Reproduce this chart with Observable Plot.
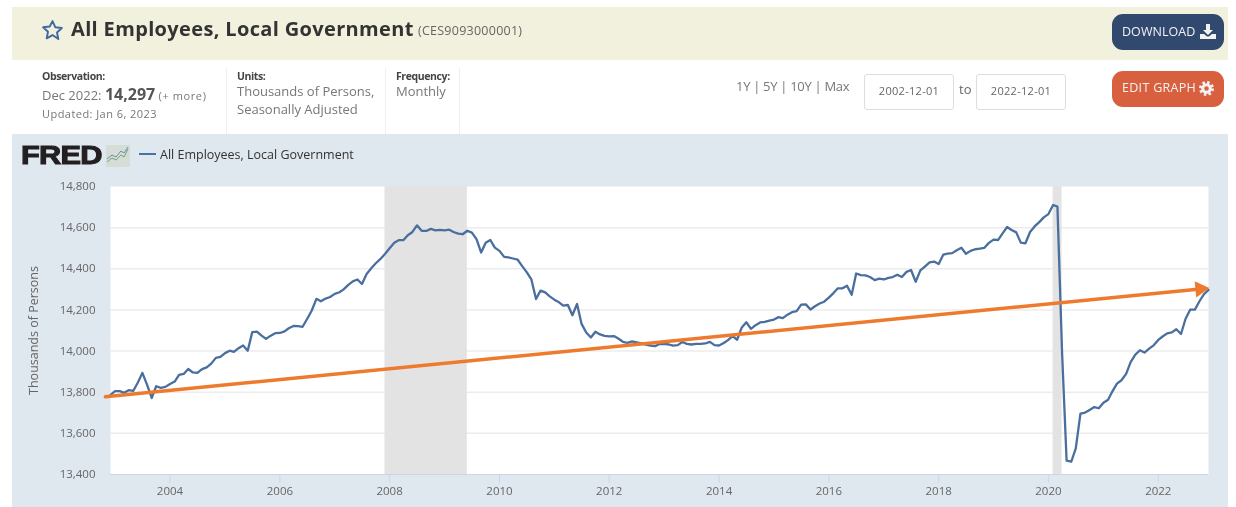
<!DOCTYPE html>
<html lang="en">
<head>
<meta charset="utf-8">
<title>All Employees, Local Government</title>
<script src="https://cdn.jsdelivr.net/npm/d3@7"></script>
<script src="https://cdn.jsdelivr.net/npm/@observablehq/plot@0.6"></script>
<style>
  html, body { margin: 0; padding: 0; background: #fff; }
  body { width: 1236px; height: 507px; position: relative; overflow: hidden; font-family: "Open Sans", sans-serif; color: #666; filter: blur(.3px); }
  .a { position: absolute; white-space: nowrap; line-height: 1; }
  #bar { position: absolute; left: 12px; top: 7px; width: 1216px; height: 53px; background: #f1f1de; }
  #panel { position: absolute; left: 12px; top: 134px; width: 1216px; height: 373px; background: #dfe7ef; }
  #chart { position: absolute; left: 12px; top: 134px; }
  #chart svg { display: block; background: transparent; }
  .sep { position: absolute; top: 68px; height: 66px; width: 1px; background: #eceff3; }
  .hd { font-size: 10.5px; font-weight: 700; color: #444; letter-spacing: -.4px; }
  .bd { font-size: 13px; color: #777; letter-spacing: 0; }
  .inp { position: absolute; top: 74px; width: 88px; height: 34px; border: 1px solid #ddd; border-radius: 3px; background: #fff; font-size: 11px; color: #666; text-align: center; line-height: 32px; letter-spacing: .3px; box-sizing: content-box; }
  .btn { position: absolute; left: 1112px; width: 112px; height: 36px; border-radius: 11px; color: #f2f2f2; font-size: 12.5px; letter-spacing: .05px; }
</style>
</head>
<body>
<div id="bar"></div>
<div id="panel"></div>

<svg class="a" style="left:41px;top:19px" width="23" height="22" viewBox="0 0 24 23">
  <path d="M12 2.2l2.9 6.4 6.9.8-5.1 4.7 1.4 6.9L12 16.8l-6.1 3.4 1.4-6.9-5.1-4.7 6.9-.8z" fill="none" stroke="#3f6a9e" stroke-width="2" stroke-linejoin="round"/>
</svg>
<div class="a" id="title" style="left:71px;top:19px;font-size:20px;font-weight:700;color:#333;letter-spacing:.35px">All Employees, Local Government</div>
<div class="a" style="left:418px;top:25px;font-size:12.5px;color:#666;letter-spacing:.25px">(CES9093000001)</div>

<div class="sep" style="left:226px"></div>
<div class="sep" style="left:385px"></div>
<div class="sep" style="left:459px"></div>

<div class="a hd" style="left:42px;top:71px">Observation:</div>
<div class="a bd" style="left:42px;top:86px;font-size:13px">Dec 2022: <b style="font-size:16px;color:#555">14,297</b> <span style="font-size:11px;letter-spacing:.6px">(+ more)</span></div>
<div class="a" style="left:42px;top:108px;font-size:11px;color:#777;letter-spacing:.45px">Updated: Jan 6, 2023</div>

<div class="a hd" style="left:237px;top:71px">Units:</div>
<div class="a bd" style="left:237px;top:85px">Thousands of Persons,</div>
<div class="a bd" style="left:237px;top:103px">Seasonally Adjusted</div>

<div class="a hd" style="left:396px;top:71px">Frequency:</div>
<div class="a bd" style="left:396px;top:85px">Monthly</div>

<div class="a" style="left:736px;top:80px;font-size:13px;color:#777;letter-spacing:-.3px">1Y | 5Y | 10Y | Max</div>
<div class="inp" style="left:864px">2002-12-01</div>
<div class="a" style="left:959px;top:83px;font-size:13px;color:#666">to</div>
<div class="inp" style="left:976px">2022-12-01</div>

<div class="btn" style="top:14px;background:#31496f">
  <span class="a" style="left:10px;top:12px">DOWNLOAD</span>
  <svg class="a" style="left:88px;top:9px" width="16" height="17" viewBox="0 0 16 17">
    <path d="M6 1h4v6h3l-5 5-5-5h3z" fill="#f2f2f2"/><path d="M0 11h4l3 2.5h2L12 11h4v5H0z" fill="#f2f2f2"/>
  </svg>
</div>
<div class="btn" style="top:71px;background:#d8603f">
  <span class="a" style="left:10px;top:11px;letter-spacing:.3px">EDIT GRAPH</span>
  <svg class="a" style="left:87px;top:10px" width="15" height="15" viewBox="0 0 15 15">
    <circle cx="7.5" cy="7.5" r="3.8" fill="none" stroke="#f2f2f2" stroke-width="3"/>
    <circle cx="7.5" cy="7.5" r="6" fill="none" stroke="#f2f2f2" stroke-width="3" stroke-dasharray="2.4 2.3"/>
  </svg>
</div>

<div class="a" style="left:20.5px;top:142.5px;font-family:'Liberation Sans',sans-serif;font-size:25px;font-weight:700;color:#231f20;letter-spacing:-.6px;transform:scaleX(1.23);transform-origin:left top;-webkit-text-stroke:1px #231f20">FRED</div>
<svg class="a" style="left:106px;top:145px" width="24" height="22" viewBox="0 0 24 22">
  <rect width="24" height="22" fill="#d6dcd6"/>
  <path d="M1 17l5-4 4 2 5-5 3 2 4-8" fill="none" stroke="#6fa96f" stroke-width="1"/>
  <path d="M1 14l5-4 4 2 5-6 3 2 4-6" fill="none" stroke="#6f8cae" stroke-width="1"/>
</svg>
<svg class="a" style="left:139px;top:153px" width="17" height="2"><rect width="17" height="2" fill="#4572a7"/></svg>
<div class="a" style="left:160px;top:149px;font-size:12.5px;color:#333;letter-spacing:0">All Employees, Local Government</div>

<div id="chart"></div>

<script>
const startDate = "2002-12-01";
const endDate = "2022-12-01";
const yearTicks = ["2004","2006","2008","2010","2012","2014","2016","2018","2020","2022"];
const yTicks = [13400,13600,13800,14000,14200,14400,14600,14800];
const gridTicks = [13600,13800,14000,14200,14400,14600];

const values2003 = [13787,13805,13805,13797,13810,13806,13847,13894,13837,13772,13829,13821,13826];
const values2004 = [13840,13852,13884,13889,13913,13896,13894,13912,13921,13939,13967,13972];
const values2005 = [13990,14002,13996,14014,14027,14002,14092,14095,14075,14059,14075,14087];
const values2006 = [14088,14096,14111,14122,14121,14118,14156,14197,14254,14242,14255,14263];
const values2007 = [14278,14286,14300,14322,14339,14348,14326,14375,14403,14427,14448,14472];
const values2008 = [14500,14527,14539,14539,14563,14579,14611,14585,14584,14594,14587,14589];
const values2009 = [14587,14590,14579,14571,14568,14585,14576,14544,14479,14527,14540,14503];
const values2010 = [14487,14458,14455,14450,14445,14413,14384,14348,14253,14294,14285,14266];
const values2011 = [14250,14237,14221,14224,14174,14229,14132,14090,14066,14094,14081,14074];
const values2012 = [14071,14073,14061,14045,14040,14047,14042,14037,14031,14026,14024,14034];
const values2013 = [14035,14032,14026,14029,14044,14035,14032,14035,14035,14037,14045,14029];
const values2014 = [14027,14039,14053,14073,14055,14115,14140,14108,14126,14139,14142,14148];
const values2015 = [14153,14165,14160,14177,14189,14194,14226,14227,14202,14218,14231,14240];
const values2016 = [14260,14282,14305,14305,14318,14274,14377,14369,14368,14360,14345,14352];
const values2017 = [14348,14356,14360,14371,14360,14385,14394,14337,14392,14411,14431,14435];
const values2018 = [14423,14469,14474,14476,14490,14502,14473,14487,14495,14498,14502,14526];
const values2019 = [14542,14540,14571,14603,14589,14577,14527,14524,14579,14606,14627,14650];
const values2020 = [14666,14710,14702,13990,13467,13462,13527,13696,13701,13714,13728,13722];
const values2021 = [13749,13763,13803,13842,13858,13889,13946,13983,14004,13993,14012,14028];
const values2022 = [14054,14072,14086,14091,14106,14083,14156,14201,14201,14241,14277,14297];

const recessionStarts = ["2007-12-01","2020-02-01"];
const recessionEnds = ["2009-06-01","2020-04-01"];
const trendDates = ["2002-10-28","2022-10-06"];
const trendValues = [13778,14302];
const trendHeadDate = ["2022-10-06"];
const trendHeadValue = [14302];

const allValues = [].concat(values2003,values2004,values2005,values2006,values2007,values2008,values2009,values2010,values2011,values2012,values2013,values2014,values2015,values2016,values2017,values2018,values2019,values2020,values2021,values2022);
const t0 = new Date(startDate + "T00:00:00Z");
const series = allValues.map((v,i) => ({date: d3.utcMonth.offset(t0,i), value: v}));
const recessions = recessionStarts.map((s,i) => ({x1: new Date(s), x2: new Date(recessionEnds[i])}));
const trend = trendDates.map((d,i) => ({date: new Date(d), value: trendValues[i]}));
const head = trendHeadDate.map((d,i) => ({date: new Date(d), value: trendHeadValue[i]}));
const years = yearTicks.map(y => new Date(y + "-01-01T00:00:00Z"));

const fontFamily = "'Open Sans', sans-serif";
const plot = Plot.plot({
  width: 1216, height: 373,
  marginLeft: 98, marginRight: 20, marginTop: 52, marginBottom: 33,
  style: {fontFamily, background: "transparent", overflow: "visible"},
  x: {type: "utc", domain: [new Date(startDate), new Date(endDate)], label: null},
  y: {domain: [13400,14800], label: null},
  marks: [
    Plot.frame({fill: "#fff", stroke: "none"}),
    Plot.gridY(gridTicks, {stroke: "#ececec", strokeOpacity: 1, strokeWidth: 1.5}),
    Plot.rectY(recessions, {x1: "x1", x2: "x2", y1: 13400, y2: 14800, fill: "#e3e3e3"}),
    Plot.ruleY([13400], {stroke: "#ccd6eb", strokeWidth: 1}),
    Plot.axisY(yTicks, {anchor: "left", tickSize: 0, tickPadding: 15, tickFormat: d3.format(","), fontSize: 11.5, color: "#666", label: null}),
    Plot.axisY([], {anchor: "left", tickSize: 0, fontSize: 12.5, color: "#666",
      label: "Thousands of Persons", labelAnchor: "center", labelArrow: "none", labelOffset: 81}),
    Plot.axisX(years, {anchor: "bottom", tickSize: 9, tickPadding: 3, tickFormat: d => d3.utcFormat("%Y")(d), fontSize: 11.5, stroke: "#ccd6eb", fill: "#666", label: null}),
    Plot.line(series, {x: "date", y: "value", stroke: "#4a6f9f", strokeWidth: 2.3, curve: "linear"}),
    Plot.line(trend, {x: "date", y: "value", stroke: "#ee7a2e", strokeWidth: 3.5}),
    Plot.dot(head, {x: "date", y: "value", symbol: "triangle", r: 6, fill: "#ee7a2e", rotate: 84.4})
  ]
});
document.getElementById("chart").appendChild(plot);
</script>
</body>
</html>
